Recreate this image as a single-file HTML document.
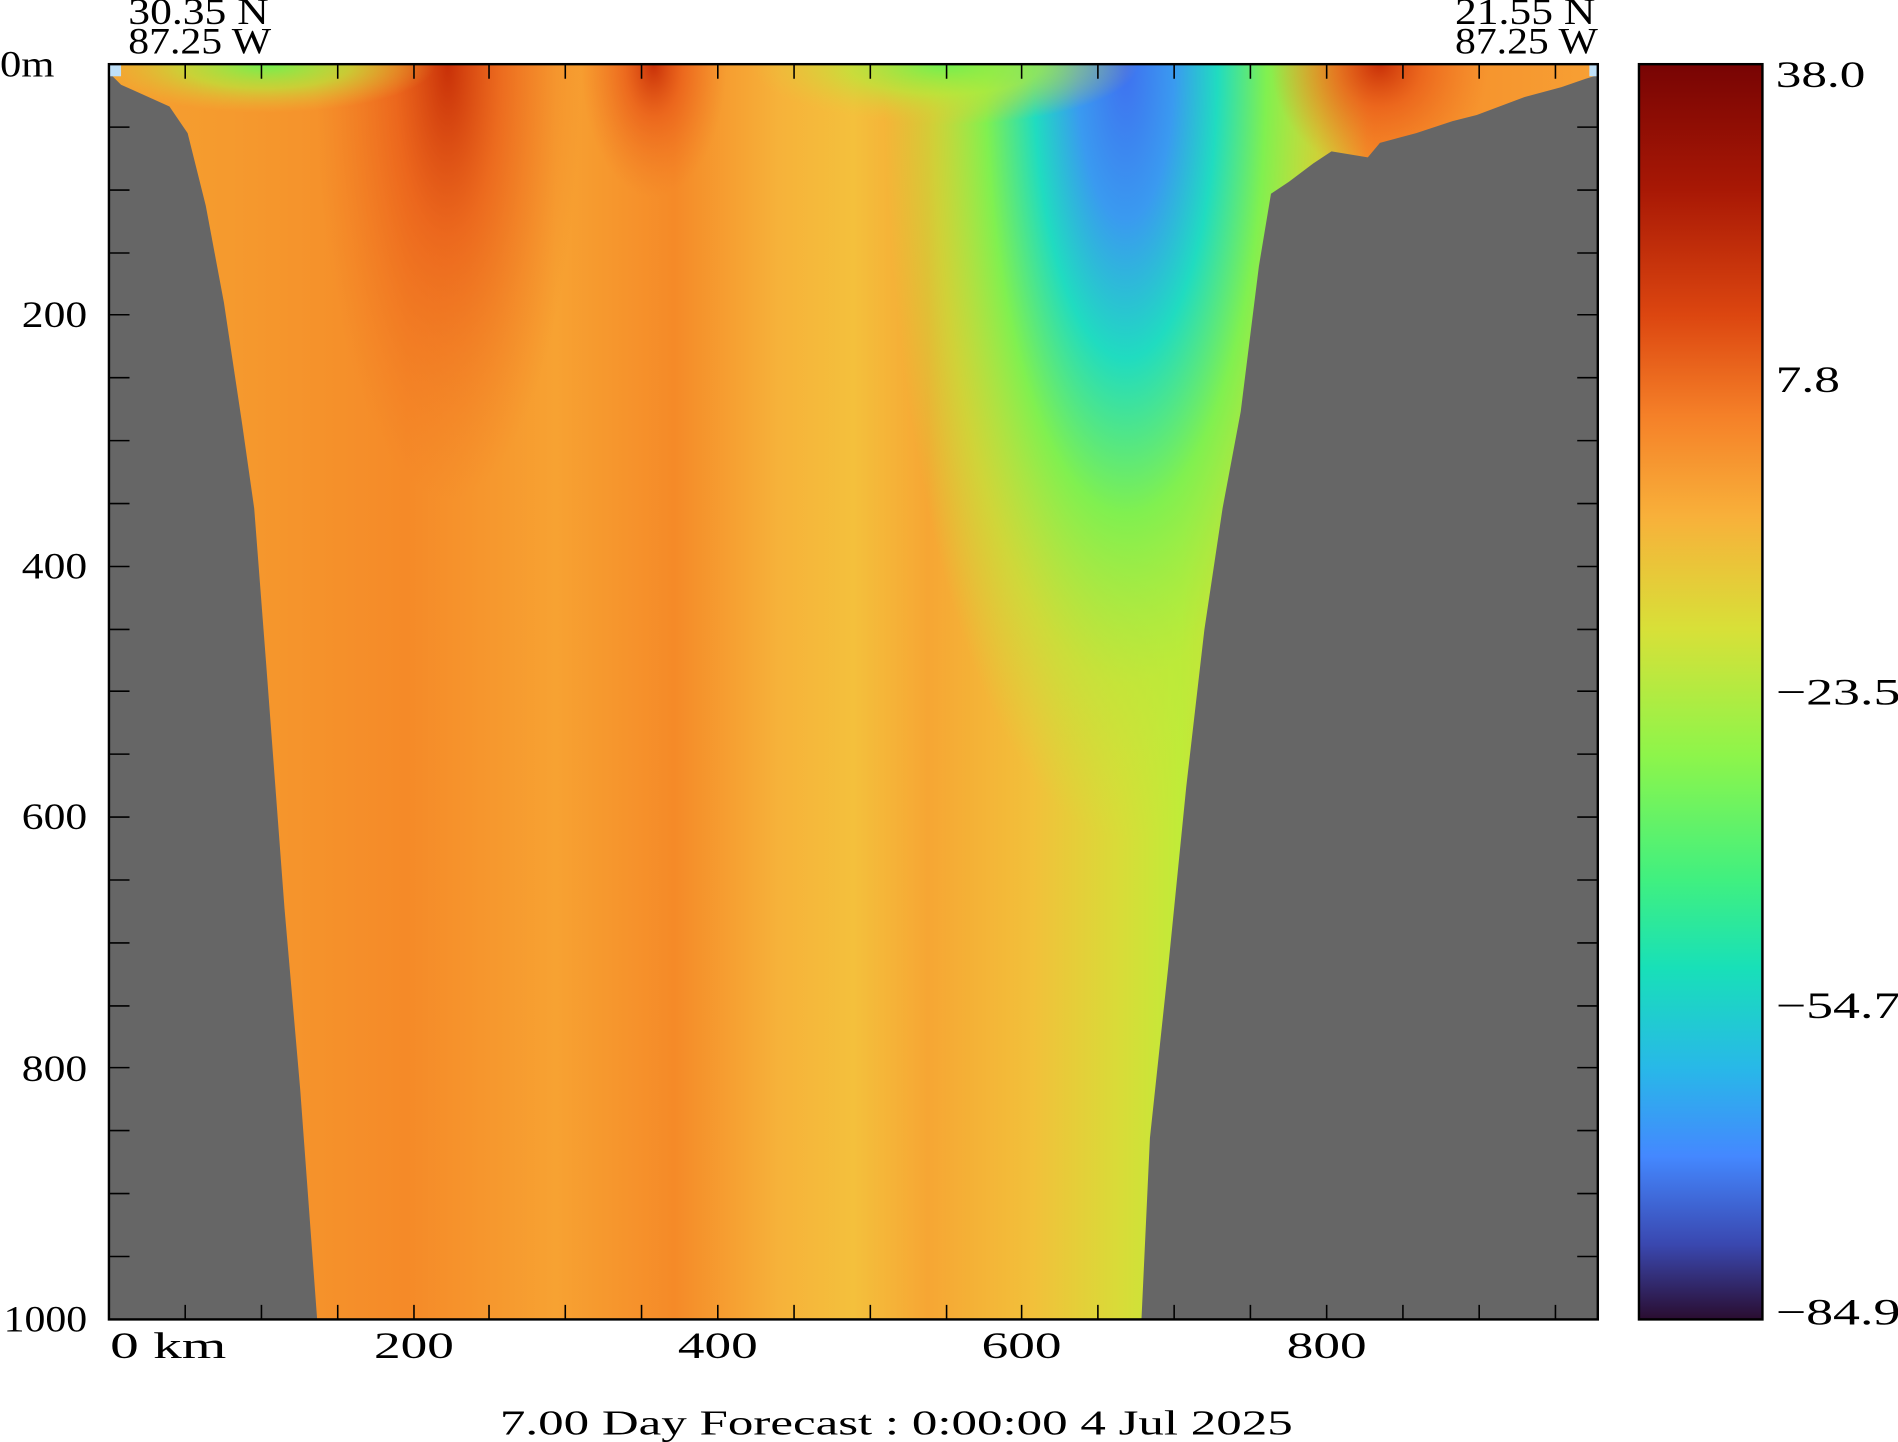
<!DOCTYPE html>
<html><head><meta charset="utf-8"><style>html,body{margin:0;padding:0;background:#fff}svg{display:block}</style></head>
<body>
<svg width="1898" height="1442" viewBox="0 0 1568 1191.25" xmlns="http://www.w3.org/2000/svg" font-family="Liberation Serif, serif" font-size="31" fill="#000" xml:space="preserve">
<defs>
<linearGradient id="base" x1="0" x2="1" y1="0" y2="0">
<stop offset="0" stop-color="#f5a030"/>
<stop offset="0.08" stop-color="#f59a2e"/>
<stop offset="0.2" stop-color="#f58a28"/>
<stop offset="0.3" stop-color="#f7a232"/>
<stop offset="0.38" stop-color="#f58a28"/>
<stop offset="0.45" stop-color="#f6b23a"/>
<stop offset="0.5" stop-color="#f4c03c"/>
<stop offset="0.55" stop-color="#f6a634"/>
<stop offset="0.62" stop-color="#f2c03a"/>
<stop offset="0.68" stop-color="#d8dc38"/>
<stop offset="0.72" stop-color="#c0ec38"/>
<stop offset="0.8" stop-color="#e8b838"/>
<stop offset="0.85" stop-color="#f58a28"/>
<stop offset="1" stop-color="#f7a034"/>
</linearGradient>
<radialGradient id="cold" cx="0.5" cy="0.5" r="0.5">
<stop offset="0" stop-color="#3f70f0"/>
<stop offset="0.2" stop-color="#3a9af0"/>
<stop offset="0.38" stop-color="#20dcc0"/>
<stop offset="0.58" stop-color="#80f050"/>
<stop offset="0.8" stop-color="#b8ea3a" stop-opacity="0.6"/>
<stop offset="1" stop-color="#c0ea3a" stop-opacity="0"/>
</radialGradient>
<radialGradient id="hot" cx="0.5" cy="0.5" r="0.5">
<stop offset="0" stop-color="#c83008"/>
<stop offset="0.4" stop-color="#e85818" stop-opacity="0.7"/>
<stop offset="1" stop-color="#f07020" stop-opacity="0"/>
</radialGradient>
<radialGradient id="grn" cx="0.5" cy="0.5" r="0.5">
<stop offset="0" stop-color="#70f050"/>
<stop offset="0.5" stop-color="#b8e83a" stop-opacity="0.7"/>
<stop offset="1" stop-color="#e8c838" stop-opacity="0"/>
</radialGradient>
<linearGradient id="cb" x1="0" x2="0" y1="0" y2="1">
<stop offset="0" stop-color="#780404"/>
<stop offset="0.1" stop-color="#a81805"/>
<stop offset="0.2" stop-color="#dc4610"/>
<stop offset="0.28" stop-color="#f58028"/>
<stop offset="0.36" stop-color="#f8b03a"/>
<stop offset="0.45" stop-color="#d8e038"/>
<stop offset="0.55" stop-color="#8ef54a"/>
<stop offset="0.65" stop-color="#40f080"/>
<stop offset="0.72" stop-color="#18e0b8"/>
<stop offset="0.8" stop-color="#28b8e8"/>
<stop offset="0.87" stop-color="#4488ff"/>
<stop offset="0.94" stop-color="#3a48b0"/>
<stop offset="1" stop-color="#2a0d30"/>
</linearGradient>
<clipPath id="pc"><rect x="90" y="53" width="1230" height="1037"/></clipPath>
</defs>
<g clip-path="url(#pc)">
<rect x="90" y="53" width="1230" height="1037" fill="url(#base)"/>
<ellipse cx="930" cy="53" rx="200" ry="640" fill="url(#cold)"/>
<ellipse cx="370" cy="53" rx="110" ry="360" fill="url(#hot)"/>
<ellipse cx="540" cy="53" rx="60" ry="110" fill="url(#hot)"/>
<ellipse cx="1140" cy="53" rx="90" ry="90" fill="url(#hot)"/>
<ellipse cx="220" cy="53" rx="140" ry="40" fill="url(#grn)"/>
<ellipse cx="780" cy="53" rx="160" ry="50" fill="url(#grn)"/>
<polygon fill="#666" points="90,60 100,70 140,88 155,110 170,170 185,250 200,350 210,420 220,550 235,750 248,900 262,1090 90,1090"/>
<polygon fill="#666" points="943,1090 950,940 965,800 980,650 995,520 1010,420 1025,340 1040,220 1050,160 1065,150 1085,135 1100,125 1130,130 1140,118 1170,110 1200,100 1220,95 1260,80 1290,72 1310,65 1320,62 1320,1090"/>
<rect x="90" y="53" width="10" height="10" fill="#bfe0f8"/>
<rect x="1313" y="53" width="7" height="10" fill="#bfe0f8"/>
</g>
<rect x="90" y="53" width="1230" height="1037" fill="none" stroke="#000" stroke-width="2"/>
<g stroke="#000" stroke-width="1.3">
<path d="M153,53v12M216,53v12M279,53v12M342,53v12M404,53v12M467,53v12M530,53v12M593,53v12M656,53v12M719,53v12M782,53v12M844,53v12M907,53v12M970,53v12M1033,53v12M1096,53v12M1159,53v12M1222,53v12M1285,53v12"/>
<path d="M153,1090v-12M216,1090v-12M279,1090v-12M342,1090v-12M404,1090v-12M467,1090v-12M530,1090v-12M593,1090v-12M656,1090v-12M719,1090v-12M782,1090v-12M844,1090v-12M907,1090v-12M970,1090v-12M1033,1090v-12M1096,1090v-12M1159,1090v-12M1222,1090v-12M1285,1090v-12"/>
<path d="M90,105h17M90,157h17M90,209h17M90,260h17M90,312h17M90,364h17M90,416h17M90,468h17M90,520h17M90,571h17M90,623h17M90,675h17M90,727h17M90,779h17M90,831h17M90,882h17M90,934h17M90,986h17M90,1038h17"/>
<path d="M1320,105h-17M1320,157h-17M1320,209h-17M1320,260h-17M1320,312h-17M1320,364h-17M1320,416h-17M1320,468h-17M1320,520h-17M1320,571h-17M1320,623h-17M1320,675h-17M1320,727h-17M1320,779h-17M1320,831h-17M1320,882h-17M1320,934h-17M1320,986h-17M1320,1038h-17"/>
</g>
<rect x="1354" y="53" width="102" height="1037" fill="url(#cb)" stroke="#000" stroke-width="2"/>
<g font-size="31" lengthAdjust="spacingAndGlyphs">
<text x="0" y="63" textLength="45" lengthAdjust="spacingAndGlyphs">0m</text>
<text x="18" y="270" textLength="54" lengthAdjust="spacingAndGlyphs">200</text>
<text x="18" y="478" textLength="54" lengthAdjust="spacingAndGlyphs">400</text>
<text x="18" y="685" textLength="54" lengthAdjust="spacingAndGlyphs">600</text>
<text x="18" y="893" textLength="54" lengthAdjust="spacingAndGlyphs">800</text>
<text x="3" y="1100" textLength="69" lengthAdjust="spacingAndGlyphs">1000</text>
<text x="91" y="1122" textLength="96" lengthAdjust="spacingAndGlyphs">0 km</text>
<text x="309" y="1122" textLength="66" lengthAdjust="spacingAndGlyphs">200</text>
<text x="560" y="1122" textLength="66" lengthAdjust="spacingAndGlyphs">400</text>
<text x="811" y="1122" textLength="66" lengthAdjust="spacingAndGlyphs">600</text>
<text x="1063" y="1122" textLength="66" lengthAdjust="spacingAndGlyphs">800</text>
<text x="1467" y="72" textLength="74" lengthAdjust="spacingAndGlyphs">38.0</text>
<text x="1467" y="324" textLength="53" lengthAdjust="spacingAndGlyphs">7.8</text>
<text x="1467" y="582" textLength="103" lengthAdjust="spacingAndGlyphs">−23.5</text>
<text x="1467" y="841" textLength="103" lengthAdjust="spacingAndGlyphs">−54.7</text>
<text x="1467" y="1094" textLength="103" lengthAdjust="spacingAndGlyphs">−84.9</text>
<text x="106" y="20" textLength="116" lengthAdjust="spacingAndGlyphs">30.35 N</text>
<text x="106" y="44" textLength="118" lengthAdjust="spacingAndGlyphs">87.25 W</text>
<text x="1202" y="20" textLength="116" lengthAdjust="spacingAndGlyphs">21.55 N</text>
<text x="1202" y="44" textLength="118" lengthAdjust="spacingAndGlyphs">87.25 W</text>
<text x="413" y="1185" font-size="29" textLength="655" lengthAdjust="spacingAndGlyphs">7.00 Day Forecast :  0:00:00   4 Jul 2025</text>
</g>
</svg>
</body></html>
